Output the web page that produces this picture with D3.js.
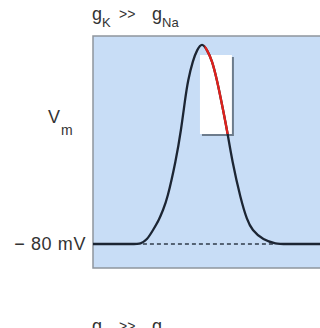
<!DOCTYPE html>
<html>
<head>
<meta charset="utf-8">
<script src="https://cdn.jsdelivr.net/npm/d3@7"></script>
<style>
  html, body { margin: 0; padding: 0; background: #ffffff; }
  svg { display: block; }
  text { font-family: "Liberation Sans", Arial, Helvetica, sans-serif; fill: #333333; }
</style>
</head>
<body>
<svg id="chart" width="320" height="328"></svg>
<script>
// Action potential trace: membrane voltage (mV) against time (ms)
const time =    [0, 1.9, 2.04, 2.35, 2.61, 2.87, 3.04, 3.22, 3.61, 3.83, 4.00, 4.13, 4.35, 4.52, 4.74,
                 4.96, 5.17, 5.39, 5.57, 5.83, 6.04, 6.43, 6.70, 6.91, 7.39, 8.00, 8.2, 10];
const voltage = [-80, -80, -80, -77.6, -71.6, -65.6, -59.6, -53.6, -29.6, -11.6, 6.4, 18.4, 30.4, 36.4, 41,
                 36.4, 30.4, 18.4, 6.4, -11.6, -29.6, -53.6, -65.6, -71.6, -77.6, -80, -80, -80];

// Resting potential and its tick label
const restingPotential = -80;
const yTickValues = [-80];
const yTickLabels = ["\u2212 80 mV"];

// Highlighted falling-phase window (time range, voltage range) and its red span
const windowTime = [4.65, 6.04];
const windowVoltage = [-14, 33.4];
const redStartTime = 4.85;

// Dashed resting line spans the excursion away from rest
const restSpan = [2.04, 8.00];

const svg = d3.select("#chart");

const plot = { left: 93, top: 36, right: 323, bottom: 268 };

const x = d3.scaleLinear().domain([0, 10]).range([plot.left, plot.right]);
const y = d3.scaleLinear().domain([-94.4, 44.8]).range([plot.bottom, plot.top]);

const points = time.map((t, i) => ({ t, v: voltage[i] }));

// Panel background
svg.append("rect")
  .attr("x", plot.left)
  .attr("y", plot.top)
  .attr("width", plot.right - plot.left + 10)
  .attr("height", plot.bottom - plot.top)
  .attr("fill", "#c8ddf6")
  .attr("stroke", "#8e959d")
  .attr("stroke-width", 1.5);

// White window with a slate shadow on the right and bottom
const wx0 = x(windowTime[0]), wx1 = x(windowTime[1]);
const wy0 = y(windowVoltage[1]), wy1 = y(windowVoltage[0]);
svg.append("rect")
  .attr("x", wx0 + 2).attr("y", wy0 + 2)
  .attr("width", wx1 - wx0).attr("height", wy1 - wy0)
  .attr("fill", "#6d7c8c");
svg.append("rect")
  .attr("x", wx0).attr("y", wy0)
  .attr("width", wx1 - wx0).attr("height", wy1 - wy0)
  .attr("fill", "#ffffff");

// Dashed resting level under the spike
svg.append("line")
  .attr("x1", x(restSpan[0]) + 3).attr("x2", x(restSpan[1]) - 3)
  .attr("y1", y(restingPotential)).attr("y2", y(restingPotential))
  .attr("stroke", "#2f3b4a")
  .attr("stroke-width", 1.4)
  .attr("stroke-dasharray", "4,3");

const line = d3.line()
  .x(d => x(d.t))
  .y(d => y(d.v))
  .curve(d3.curveBasis);

// Voltage trace
svg.append("path")
  .datum(points)
  .attr("d", line)
  .attr("fill", "none")
  .attr("stroke", "#1c2533")
  .attr("stroke-width", 2.3)
  .attr("stroke-linejoin", "round");

// Red falling-phase segment inside the window
svg.append("clipPath").attr("id", "fallClip")
  .append("rect")
  .attr("x", x(redStartTime))
  .attr("y", plot.top)
  .attr("width", wx1 - x(redStartTime))
  .attr("height", wy1 - plot.top);

svg.append("path")
  .datum(points)
  .attr("d", line)
  .attr("clip-path", "url(#fallClip)")
  .attr("fill", "none")
  .attr("stroke", "#e0211c")
  .attr("stroke-width", 2.3);

// Resting potential label on the left
const yAxis = d3.axisLeft(y)
  .tickValues(yTickValues)
  .tickFormat((d, i) => yTickLabels[i])
  .tickSize(0)
  .tickPadding(7);
const axisG = svg.append("g")
  .attr("transform", `translate(${plot.left},0)`)
  .call(yAxis);
axisG.select(".domain").remove();
axisG.selectAll("text")
  .attr("font-size", 18)
  .attr("font-family", "Liberation Sans, Arial, sans-serif")
  .attr("fill", "#333333")
  .attr("letter-spacing", 0.6);

// Axis title V_m
svg.append("text").attr("x", 48).attr("y", 123).attr("font-size", 18).text("V");
svg.append("text").attr("x", 61).attr("y", 135).attr("font-size", 14).text("m");

// Conductance headings
function heading(yBase, main1, sub1, main2, sub2) {
  svg.append("text").attr("x", 92).attr("y", yBase).attr("font-size", 18).text(main1);
  svg.append("text").attr("x", 102).attr("y", yBase + 7).attr("font-size", 13).text(sub1);
  svg.append("text").attr("x", 119).attr("y", yBase - 1).attr("font-size", 14).text(">>");
  svg.append("text").attr("x", 152).attr("y", yBase).attr("font-size", 18).text(main2);
  svg.append("text").attr("x", 162).attr("y", yBase + 7).attr("font-size", 13).text(sub2);
}
heading(20, "g", "K", "g", "Na");
heading(332, "g", "Na", "g", "K");
</script>
</body>
</html>
